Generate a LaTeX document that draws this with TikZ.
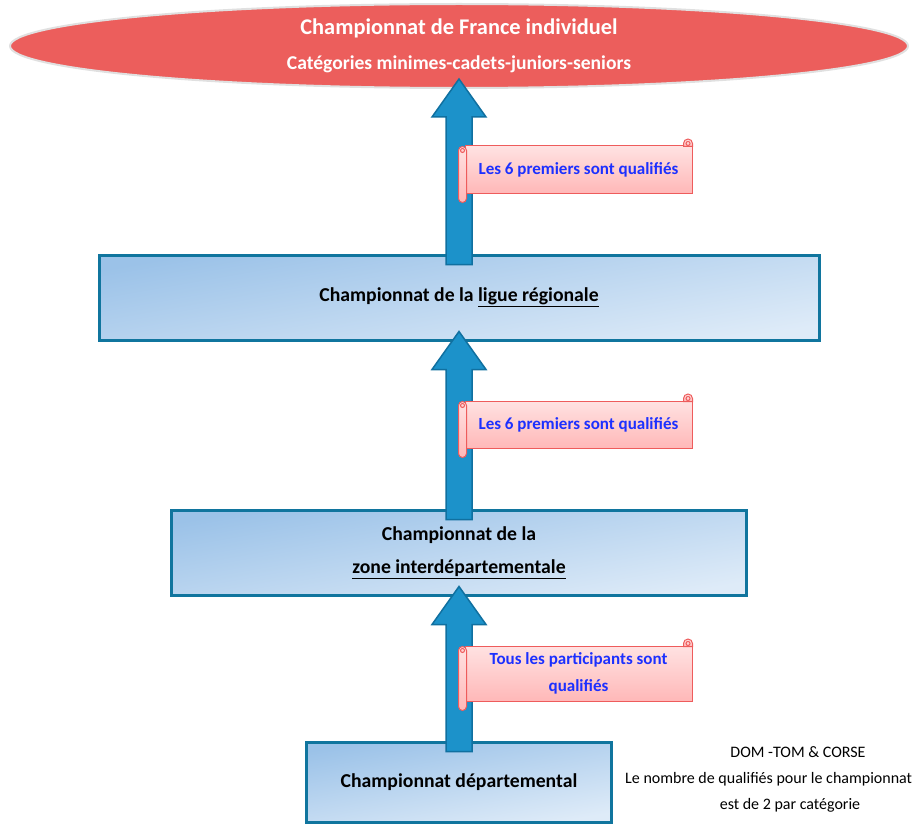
\documentclass[tikz,border=0pt]{standalone}
\usepackage{fontspec}
\setmainfont{Carlito}
\usetikzlibrary{shapes.geometric,positioning,calc}

\definecolor{titlered}{RGB}{236,94,92}
\definecolor{arrowblue}{RGB}{28,146,202}
\definecolor{arrowedge}{RGB}{16,112,160}
\definecolor{boxedge}{RGB}{16,117,158}
\definecolor{boxtop}{RGB}{155,194,232}
\definecolor{boxbottom}{RGB}{222,235,248}
\definecolor{scrolltop}{RGB}{255,226,226}
\definecolor{scrollbottom}{RGB}{255,184,184}
\definecolor{scrolledge}{RGB}{238,92,92}
\definecolor{tagblue}{RGB}{28,48,255}

\tikzset{
  level/.style={rectangle, draw=boxedge, line width=3pt, top color=boxtop,
    bottom color=boxbottom, shading angle=10, align=center,
    font=\bfseries\fontsize{19.7}{33}\selectfont, minimum height=85pt},
  tag/.style={rectangle, draw=scrolledge, line width=1pt, top color=scrolltop,
    bottom color=scrollbottom, text=tagblue, align=center,
    font=\bfseries\fontsize{17}{27}\selectfont,
    minimum width=227pt, minimum height=47pt, inner sep=2pt},
  curl/.style={draw=scrolledge, line width=1pt, top color=scrolltop,
    bottom color=scrollbottom},
  flow/.style={draw=arrowedge, line width=1.5pt, fill=arrowblue, line join=miter},
  note/.style={font=\fontsize{16}{26.5}\selectfont, inner sep=1pt},
}

% block arrow from the top of #1 up to the bottom of #2
\newcommand{\flowup}[2]{%
  \draw[flow] let \p1=(#1.north), \p2=(#2.south) in
    ({\x1-13pt},{\y1-11pt}) -- ({\x1-13pt},{\y2-28pt}) -- ({\x1-27pt},{\y2-28pt})
    -- ({\x1},{\y2+10pt}) -- ({\x1+27pt},{\y2-28pt}) -- ({\x1+13pt},{\y2-28pt})
    -- ({\x1+13pt},{\y1-11pt}) -- cycle;}

% rolled ends of a scroll label
\newcommand{\scrollends}[1]{%
  \path[curl] ([shift={(-9,1)}]#1.north east) -- ([shift={(-9,-2)}]#1.north east)
    arc[start angle=180,end angle=360,radius=4.5] -- ([shift={(0,1)}]#1.north east) -- cycle;
  \draw[curl] ([shift={(-4.5,-2)}]#1.north east) circle[radius=2];
  \path[curl] ([shift={(-6,5)}]#1.north west) -- ([shift={(-6,5)}]#1.south west)
    arc[start angle=180,end angle=0,radius=4] -- ([shift={(2,5)}]#1.north west)
    arc[start angle=0,end angle=-180,radius=4] -- cycle;
  \draw[curl] ([shift={(-2,5)}]#1.north west) circle[radius=2];}

\begin{document}
\begin{tikzpicture}[x=1pt,y=-1pt,on grid]
 \useasboundingbox (0,0) rectangle (913,824);

 \node[ellipse, fill=titlered, draw=black!12, line width=2pt, minimum width=898pt,
   minimum height=84pt, inner sep=0pt, text=white, align=center,
   font=\bfseries\fontsize{22.4}{35}\selectfont] (france) at (459,46)
   {Championnat de France individuel\\{\fontsize{19.6}{35}\selectfont Catégories minimes-cadets-juniors-seniors}};
 \node[level, minimum width=720pt] (ligue) [below=251.5pt of france]
   {Championnat de la \underline{ligue régionale}};
 \node[level, minimum width=575pt] (zone) [below=255pt of ligue]
   {Championnat de la\\\underline{zone interdépartementale}};
 \node[level, minimum width=305pt, minimum height=80pt] (dept) [below=229.5pt of zone]
   {Championnat départemental};

 \flowup{ligue}{france}
 \flowup{zone}{ligue}
 \flowup{dept}{zone}

 \node[tag] (tag1) at (578.5,169.5) {Les 6 premiers sont qualifiés};
 \node[tag] (tag2) at (578.5,424.5) {Les 6 premiers sont qualifiés};
 \node[tag, minimum height=55pt] (tag3) at (578.5,673.5) {Tous les participants sont\\qualifiés};
 \scrollends{tag1}
 \scrollends{tag2}
 \scrollends{tag3}

 \node[note] (note1) at (798,752) {DOM -TOM \& CORSE};
 \node[note, anchor=west] (note2) at (624,779) {Le nombre de qualifiés pour le championnat};
 \node[note] (note3) at (790,805) {est de 2 par catégorie};
\end{tikzpicture}
\end{document}
